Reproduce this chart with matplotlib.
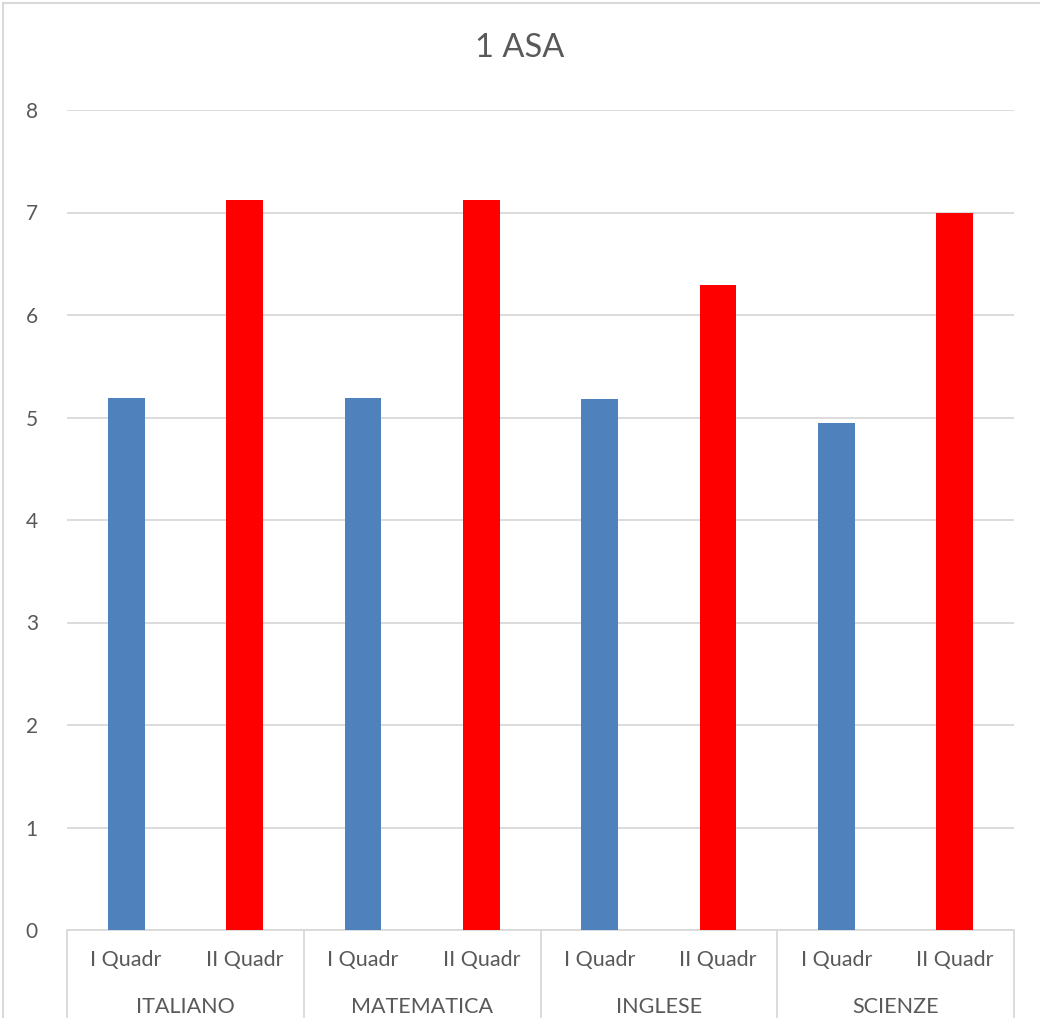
import numpy as np
import matplotlib.pyplot as plt
from matplotlib.lines import Line2D

plt.rcParams['font.family'] = ['Lato', 'DejaVu Sans']

# ── Data ───────────────────────────────────────────────────────────────────
subjects = ["ITALIANO", "MATEMATICA", "INGLESE", "SCIENZE"]
periods = ["I Quadr", "II Quadr"]
q1_values = [5.19, 5.19, 5.18, 4.95]
q2_values = [7.12, 7.12, 6.29, 7.00]
y_ticks = [0, 1, 2, 3, 4, 5, 6, 7, 8]

BLUE, RED = "#4F81BD", "#FF0000"
GRID, TXT = "#D9D9D9", "#595959"

W, H = 1040, 1018
fig = plt.figure(figsize=(W / 100, H / 100), dpi=100)
ax = fig.add_axes([67 / W, (H - 930) / H, (1014 - 67) / W, (930 - 110) / H])

# interleave the two periods per subject
values, colors = [], []
for a, b in zip(q1_values, q2_values):
    values += [a, b]
    colors += [BLUE, RED]
x = np.arange(len(values))
ax.bar(x, values, width=0.31, color=colors, zorder=3)

ax.set_xlim(-0.5, len(values) - 0.5)
ax.set_ylim(0, 8)
ax.set_yticks(y_ticks)
ax.tick_params(axis='y', length=0, pad=21, labelsize=15, labelcolor=TXT)
ax.set_xticks([])
ax.grid(axis='y', color=GRID, lw=1.3, zorder=0)
for s in ('top', 'right', 'left'):
    ax.spines[s].set_visible(False)
ax.spines['bottom'].set_color(GRID)
ax.spines['bottom'].set_linewidth(1.3)

# ── Two-level category axis ───────────────────────────────────────────────
xt = ax.get_xaxis_transform()
for i in x:
    ax.text(i, -0.037, periods[i % 2], transform=xt, ha='center', va='center',
            fontsize=15.5, color=TXT)
for g, name in enumerate(subjects):
    ax.text(2 * g + 0.5, -0.094, name, transform=xt, ha='center', va='center',
            fontsize=15.5, color=TXT)
bounds = np.arange(-0.5, len(values), 2)
ax.vlines(bounds, -0.12, 0, transform=xt, color=GRID, lw=1.3, clip_on=False)

fig.suptitle("1 ASA", y=(H - 48) / H, va='center', fontsize=23.5, color=TXT)

# chart frame (left & top edges visible)
fig.add_artist(Line2D([2.5 / W, 2.5 / W], [0, (H - 2.5) / H], color=GRID, lw=1.5))
fig.add_artist(Line2D([2.5 / W, 1], [(H - 2.5) / H, (H - 2.5) / H], color=GRID, lw=1.5))

fig.savefig("out.png", dpi=100)
